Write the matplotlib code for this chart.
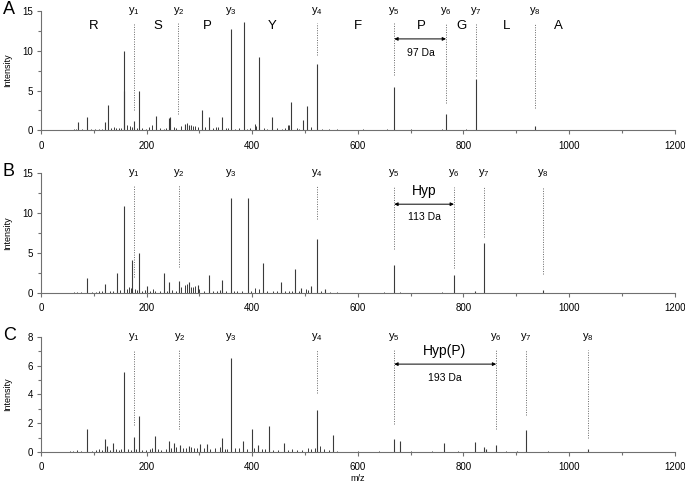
import matplotlib
matplotlib.use("Agg")
import matplotlib.pyplot as plt

# ---------------- data ----------------
# Panel A: major peaks (m/z, intensity)
peaks_A_mz = [70, 88, 121, 127, 157, 157.5, 176, 186, 218, 242, 245, 272, 280, 304, 318, 343,
              360, 384, 413, 437, 474, 496, 504, 523, 669, 767, 824, 936]
peaks_A_int = [1.05, 1.7, 1.0, 3.2, 10.0, 5.0, 1.2, 5.0, 1.8, 1.5, 1.7, 0.8, 0.7, 2.6, 1.7, 1.7,
               12.7, 13.6, 9.2, 1.6, 3.6, 1.3, 3.1, 8.4, 5.5, 2.1, 6.45, 0.5]
noise_A_mz = [55, 62, 66, 78, 95, 102, 110, 115, 132, 138, 142, 148, 152, 163, 168, 172, 181, 192,
              198, 205, 210, 226, 232, 236, 252, 256, 266, 276, 284, 288, 292, 297, 310, 326, 332,
              336, 350, 354, 368, 374, 390, 395, 405, 408, 422, 428, 446, 456, 462, 467, 470, 484,
              488, 512, 532, 545, 560, 585, 610, 640, 655, 700, 745, 760, 805, 850, 905]
noise_A_int = [0.05, 0.1, 0.15, 0.1, 0.1, 0.1, 0.2, 0.15, 0.3, 0.35, 0.25, 0.3, 0.3, 0.7, 0.5, 0.4,
               0.3, 0.25, 0.2, 0.4, 0.6, 0.3, 0.2, 0.25, 0.4, 0.3, 0.5, 0.9, 0.6, 0.5, 0.5, 0.4,
               0.4, 0.3, 0.35, 0.4, 0.3, 0.3, 0.2, 0.3, 0.2, 0.25, 0.8, 0.5, 0.3, 0.2, 0.3, 0.2,
               0.3, 0.6, 0.7, 0.3, 0.2, 0.4, 0.2, 0.1, 0.1, 0.05, 0.1, 0.05, 0.1, 0.1, 0.05, 0.1,
               0.15, 0.05, 0.05]

# Panel B
peaks_B_mz = [88, 122, 144, 157.5, 173, 186, 200, 233, 242.5, 261.5, 280, 297, 318, 343, 360,
              392, 420, 454, 481, 493, 512, 522.5, 537, 669, 782, 822, 839, 951]
peaks_B_int = [1.9, 1.1, 2.5, 10.9, 4.1, 5.0, 0.9, 2.5, 1.4, 1.5, 1.4, 1.0, 2.2, 1.6, 11.85,
               11.9, 3.8, 1.4, 3.05, 0.6, 0.9, 6.8, 0.5, 3.5, 2.2, 0.3, 6.3, 0.4]
noise_B_mz = [55, 62, 68, 76, 96, 104, 110, 116, 130, 136, 150, 162, 166, 170, 178, 182, 192,
              196, 206, 212, 216, 226, 238, 248, 256, 266, 272, 276, 284, 288, 292, 300, 308,
              326, 334, 338, 350, 366, 372, 380, 398, 405, 412, 428, 440, 446, 462, 470, 476,
              488, 502, 506, 530, 548, 560, 590, 620, 650, 680, 700, 730, 760, 800, 860, 900]
noise_B_int = [0.05, 0.1, 0.1, 0.1, 0.1, 0.15, 0.3, 0.2, 0.3, 0.3, 0.35, 0.5, 0.7, 0.6, 0.5,
               0.4, 0.3, 0.4, 0.3, 0.5, 0.3, 0.2, 0.3, 0.4, 0.3, 0.7, 1.0, 1.1, 0.8, 0.7, 0.9,
               0.5, 0.3, 0.3, 0.3, 0.4, 0.2, 0.3, 0.2, 0.2, 0.2, 0.6, 0.5, 0.2, 0.25, 0.2, 0.2,
               0.3, 0.3, 0.2, 0.5, 0.4, 0.3, 0.1, 0.1, 0.05, 0.05, 0.1, 0.15, 0.05, 0.05, 0.1,
               0.05, 0.05, 0.05]

# Panel C
peaks_C_mz = [88, 122, 125, 137, 157.5, 176, 186, 216, 242.5, 251, 263, 280, 300.5, 314, 343,
              360, 382, 399.5, 411, 431, 460, 522.5, 552.5, 669, 680, 764, 821, 839, 843,
              862, 901, 919, 1036]
peaks_C_int = [1.6, 0.9, 0.45, 0.6, 5.55, 1.07, 2.48, 1.14, 0.75, 0.65, 0.5, 0.4, 0.55, 0.55,
               1.0, 6.55, 0.8, 1.6, 0.5, 1.8, 0.6, 2.93, 1.15, 0.9, 0.8, 0.65, 0.7, 0.35, 0.2,
               0.5, 0.1, 1.5, 0.2]
noise_C_mz = [55, 60, 68, 76, 96, 104, 110, 116, 130, 142, 148, 152, 165, 170, 180, 192, 198,
              206, 210, 222, 228, 236, 246, 256, 268, 274, 284, 290, 296, 308, 320, 330, 338,
              348, 352, 368, 374, 390, 404, 418, 424, 440, 448, 468, 476, 484, 494, 506, 512,
              518, 528, 536, 545, 560, 600, 640, 700, 740, 790, 880, 960]
noise_C_int = [0.05, 0.1, 0.15, 0.1, 0.1, 0.15, 0.2, 0.15, 0.15, 0.2, 0.15, 0.2, 0.2, 0.15,
               0.2, 0.15, 0.15, 0.2, 0.25, 0.2, 0.15, 0.2, 0.3, 0.35, 0.3, 0.3, 0.35, 0.3, 0.25,
               0.3, 0.2, 0.25, 0.35, 0.2, 0.2, 0.3, 0.25, 0.2, 0.3, 0.2, 0.2, 0.15, 0.15, 0.15,
               0.2, 0.15, 0.15, 0.3, 0.2, 0.25, 0.4, 0.2, 0.15, 0.1, 0.05, 0.05, 0.05, 0.05,
               0.1, 0.05, 0.05]

# y-ion positions and dotted-line extents (m/z, bottom, top)
yions_A_mz = [176, 260, 360, 523, 669, 767, 824, 936]
yions_A_lo = [2.5, 2.0, None, 9.5, 7.0, 3.4, 6.8, 2.8]
yions_A_hi = [13.5, 13.5, None, 13.5, 13.5, 13.5, 13.5, 13.5]

yions_B_mz = [176, 261, 360, 523, 669, 782, 839, 951]
yions_B_lo = [2.0, 3.3, None, 9.3, 5.5, 3.1, 7.0, 2.4]
yions_B_hi = [13.5, 13.5, None, 13.5, 13.3, 13.3, 13.3, 13.3]

yions_C_mz = [176, 262, 360, 523, 669, 862, 919, 1036]
yions_C_lo = [1.9, 1.6, None, 4.1, 1.95, 1.6, 2.6, 0.95]
yions_C_hi = [7.1, 7.1, None, 7.1, 7.1, 7.1, 7.1, 7.1]

residues = ["R", "S", "P", "Y", "F", "P", "G", "L", "A"]
residue_mz = [99, 222, 314, 438, 600, 721, 797, 881, 980]

# ---------------- figure ----------------
plt.rcParams['font.family'] = ['Liberation Sans', 'DejaVu Sans']
fig = plt.figure(figsize=(6.85, 4.84), dpi=100)

boxes = [[0.0599, 0.731, 0.925, 0.246],
         [0.0599, 0.3946, 0.925, 0.248],
         [0.0599, 0.066, 0.925, 0.2383]]
ymaxes = [15, 15, 8]
panel_data = [
    (peaks_A_mz, peaks_A_int, noise_A_mz, noise_A_int, yions_A_mz, yions_A_lo, yions_A_hi),
    (peaks_B_mz, peaks_B_int, noise_B_mz, noise_B_int, yions_B_mz, yions_B_lo, yions_B_hi),
    (peaks_C_mz, peaks_C_int, noise_C_mz, noise_C_int, yions_C_mz, yions_C_lo, yions_C_hi),
]
letters = ["A", "B", "C"]
spine_col = "#707070"
peak_col = "#3a3a3a"
axes = []
for i, (box, ymax, pdat) in enumerate(zip(boxes, ymaxes, panel_data)):
    ax = fig.add_axes(box)
    axes.append(ax)
    pmz, pint, nmz, nint, ymz, ylo, yhi = pdat
    ax.plot([50, 1200], [0.03 * ymax / 15, 0.03 * ymax / 15], color="#555555", lw=0.5)
    ax.vlines(nmz, 0, nint, color=peak_col, lw=0.7)
    ax.vlines(pmz, 0, pint, color=peak_col, lw=0.8)
    ax.set_xlim(0, 1200)
    ax.set_ylim(0, ymax)
    for s in ["top", "right"]:
        ax.spines[s].set_visible(False)
    for s in ["left", "bottom"]:
        ax.spines[s].set_color(spine_col)
        ax.spines[s].set_linewidth(0.8)
    ax.set_xticks([0, 200, 400, 600, 800, 1000, 1200])
    ax.set_xticks(range(100, 1200, 200), minor=True)
    if ymax == 15:
        ax.set_yticks([0, 5, 10, 15])
        ax.set_yticks([2.5, 7.5, 12.5], minor=True)
    else:
        ax.set_yticks([0, 2, 4, 6, 8])
        ax.set_yticks([1, 3, 5, 7], minor=True)
    ax.tick_params(axis="both", which="both", direction="out", color=spine_col,
                   labelsize=7, width=0.8)
    ax.tick_params(axis="both", which="major", length=3)
    ax.tick_params(axis="both", which="minor", length=2.5)
    ax.tick_params(axis="y", pad=3)
    ax.tick_params(axis="x", pad=4.5)
    ax.set_ylabel("Intensity", fontsize=6.5)
    ax.yaxis.set_label_coords(-0.045, 0.5)
    # dotted y-ion lines and labels
    for k, (m, lo, hi) in enumerate(zip(ymz, ylo, yhi)):
        if lo is not None:
            ax.plot([m, m], [lo, hi], color="#666666", lw=0.7, ls=(0, (1, 1.5)))
        ax.text(m, ymax * 1.0, r"$\mathregular{y_{%d}}$" % (k + 1), ha="center",
                va="center", fontsize=8, clip_on=False)
    fig.text(0.004, box[1] + box[3] + 0.003, letters[i], fontsize=13, ha="left", va="center")

# Panel A residues and annotation
axA, axB, axC = axes
for r, m in zip(residues, residue_mz):
    axA.text(m, 13.1, r, ha="center", va="center", fontsize=9.5)
axA.annotate("", xy=(767, 11.5), xytext=(669, 11.5),
             arrowprops=dict(arrowstyle="<|-|>", lw=0.7, color="black",
                             mutation_scale=5, shrinkA=0, shrinkB=0))
axA.text(719, 9.7, "97 Da", ha="center", va="center", fontsize=7.5)

axB.text(726, 12.7, "Hyp", ha="center", va="center", fontsize=10)
axB.annotate("", xy=(782, 11.1), xytext=(669, 11.1),
             arrowprops=dict(arrowstyle="<|-|>", lw=0.7, color="black",
                             mutation_scale=5, shrinkA=0, shrinkB=0))
axB.text(726, 9.5, "113 Da", ha="center", va="center", fontsize=7.5)

axC.text(765, 7.0, "Hyp(P)", ha="center", va="center", fontsize=10)
axC.annotate("", xy=(862, 6.1), xytext=(669, 6.1),
             arrowprops=dict(arrowstyle="<|-|>", lw=0.7, color="black",
                             mutation_scale=5, shrinkA=0, shrinkB=0))
axC.text(765, 5.15, "193 Da", ha="center", va="center", fontsize=7.5)
axC.set_xlabel("m/z", fontsize=6.5, labelpad=1)

fig.savefig("out.png", dpi=100)
